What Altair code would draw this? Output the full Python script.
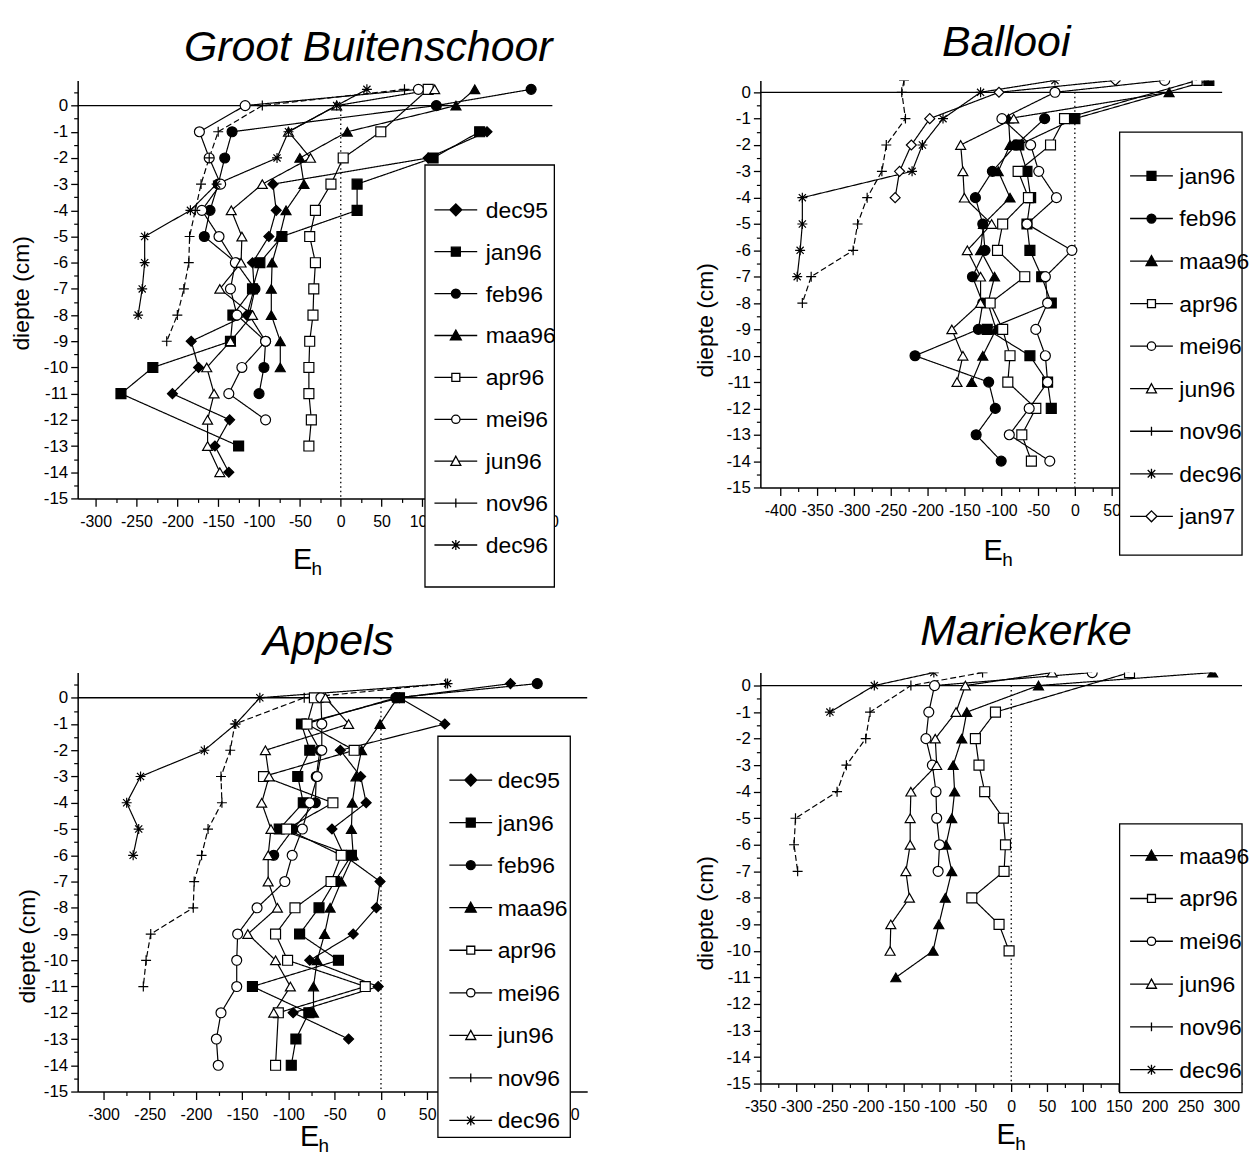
import altair as alt
import pandas as pd

FONT = "Liberation Sans Narrow, Arial Narrow, Liberation Sans, Arial, sans-serif"

# ---------------- data: redox potential Eh (mV) versus depth (cm) ----------------
# Groot Buitenschoor
GB_ORDER = ["dec95", "jan96", "feb96", "maa96", "apr96", "mei96", "jun96", "nov96", "dec96"]
GB_DEPTH = {
    "dec95": [-1, -2, -3, -4, -5, -6, -7, -8, -9, -10, -11, -12, -13, -14],
    "jan96": [-1, -2, -3, -4, -5, -6, -7, -8, -9, -10, -11, -13],
    "feb96": [0.62, 0, -1, -2, -3, -4, -5, -6, -7, -8, -9, -10, -11],
    "maa96": [0.62, 0, -1, -2, -3, -4, -5, -6, -7, -8, -9, -10],
    "apr96": [0.62, -1, -2, -3, -4, -5, -6, -7, -8, -9, -10, -11, -12, -13],
    "mei96": [0.62, 0, -1, -2, -3, -4, -5, -6, -7, -8, -9, -10, -11, -12],
    "jun96": [0.62, 0, -1, -2, -3, -4, -5, -6, -7, -8, -9, -10, -11, -12, -13, -14],
    "nov96": [0.62, 0, -1, -2, -3, -4, -5, -6, -7, -8, -9],
    "dec96": [0.62, 0, -1, -2, -3, -4, -5, -6, -7, -8],
}
GB_EH = {
    "dec95": [179, 107, -83, -79, -88, -108, -106, -115, -183, -174, -206, -136, -154, -137],
    "jan96": [170, 113, 20, 20, -72, -99, -108, -132, -135, -230, -269, -125],
    "feb96": [233, 117, -133, -142, -150, -160, -167, -128, -105, -112, -92, -94, -100],
    "maa96": [164, 141, 8, -50, -45, -67, -75, -84, -85, -85, -74, -74],
    "apr96": [107, 49, 3, -12, -31, -38, -31, -33, -34, -38, -39, -39, -36, -39],
    "mei96": [95, -117, -173, -161, -147, -170, -149, -129, -135, -127, -92, -121, -137, -92],
    "jun96": [115, -5, -64, -37, -96, -134, -121, -122, -148, -108, -135, -164, -155, -163, -163, -148],
    "nov96": [78, -96, -150, -161, -171, -178, -185, -186, -192, -200, -213],
    "dec96": [32, -5, -64, -78, -152, -184, -240, -240, -243, -248],
}

# Ballooi
BA_ORDER = ["jan96", "feb96", "maa96", "apr96", "mei96", "jun96", "nov96", "dec96", "jan97"]
BA_DEPTH = {
    "jan96": [0.45, -1, -2, -3, -4, -5, -6, -7, -8, -9, -10, -11, -12],
    "feb96": [-1, -2, -3, -4, -5, -6, -7, -8, -9, -10, -11, -12, -13, -14],
    "maa96": [0, -1, -2, -3, -4, -5, -6, -7, -8, -9, -10, -11],
    "apr96": [0.45, -1, -2, -3, -4, -5, -6, -7, -8, -9, -10, -11, -12, -13, -14],
    "mei96": [0.45, 0, -1, -2, -3, -4, -5, -6, -7, -8, -9, -10, -11, -12, -13, -14],
    "jun96": [-1, -2, -3, -4, -5, -6, -7, -8, -9, -10, -11],
    "nov96": [0.45, 0, -1, -2, -3, -4, -5, -6, -7, -8],
    "dec96": [0.45, 0, -1, -2, -3, -4, -5, -6, -7],
    "jan97": [0.45, 0, -1, -2, -3, -4],
}
BA_EH = {
    "jan96": [182, 0, -76, -65, -60, -65, -61, -45, -32, -119, -61, -37, -32],
    "feb96": [-41, -80, -112, -135, -125, -122, -139, -125, -131, -217, -117, -108, -134, -100],
    "maa96": [128, -90, -88, -104, -88, -124, -128, -109, -118, -107, -125, -140],
    "apr96": [166, -14, -33, -77, -63, -98, -105, -68, -115, -98, -88, -91, -53, -72, -59],
    "mei96": [122, -27, -99, -60, -49, -25, -65, -4, -40, -37, -53, -40, -37, -62, -89, -34],
    "jun96": [-83, -155, -152, -150, -113, -146, -128, -128, -167, -152, -160],
    "nov96": [-232, -235, -230, -256, -262, -282, -295, -301, -358, -370],
    "dec96": [-27, -128, -179, -207, -221, -370, -370, -373, -377],
    "jan97": [55, -103, -197, -222, -238, -244],
}

# Appels
AP_ORDER = ["dec95", "jan96", "feb96", "maa96", "apr96", "mei96", "jun96", "nov96", "dec96"]
AP_DEPTH = {
    "dec95": [0.54, 0, -1, -2, -3, -4, -5, -6, -7, -8, -9, -10, -11, -12, -13],
    "jan96": [0, -1, -2, -3, -4, -5, -6, -7, -8, -9, -10, -11, -12, -13, -14],
    "feb96": [0.54, 0, -1, -2, -3, -4, -5, -6],
    "maa96": [0, -1, -2, -3, -4, -5, -6, -7, -8, -9, -10, -11, -12],
    "apr96": [0, -1, -2, -3, -4, -5, -6, -7, -8, -9, -10, -11, -12, -14],
    "mei96": [0, -1, -2, -3, -4, -5, -6, -7, -8, -9, -10, -11, -12, -13, -14],
    "jun96": [0, -1, -2, -3, -4, -5, -6, -7, -8, -9, -10, -11, -12],
    "nov96": [0.54, 0, -1, -2, -3, -4, -5, -6, -7, -8, -9, -10, -11],
    "dec96": [0.54, 0, -1, -2, -3, -4, -5, -6],
}
AP_EH = {
    "dec95": [140, 20, 69, -44, -22, -16, -53, -40, -1, -5, -30, -77, -3, -95, -35],
    "jan96": [20, -86, -77, -90, -84, -110, -32, -50, -67, -88, -46, -139, -78, -92, -97],
    "feb96": [169, 16, -82, -66, -70, -71, -95, -116],
    "maa96": [18, -1, -21, -27, -31, -32, -30, -43, -55, -61, -69, -73, -73],
    "apr96": [-72, -80, -29, -127, -52, -102, -43, -54, -93, -114, -101, -17, -111, -114],
    "mei96": [-65, -64, -64, -69, -77, -85, -96, -104, -134, -155, -156, -156, -173, -178, -176],
    "jun96": [-60, -35, -125, -121, -129, -119, -122, -122, -112, -144, -114, -98, -116],
    "nov96": [70, -83, -158, -163, -173, -172, -187, -194, -202, -203, -249, -254, -257],
    "dec96": [72, -131, -157, -191, -260, -275, -262, -268],
}

# Mariekerke
MK_ORDER = ["maa96", "apr96", "mei96", "jun96", "nov96", "dec96"]
MK_DEPTH = {
    "maa96": [0.49, 0, -1, -2, -3, -4, -5, -6, -7, -8, -9, -10, -11],
    "apr96": [0.49, -1, -2, -3, -4, -5, -6, -7, -8, -9, -10],
    "mei96": [0.49, 0, -1, -2, -3, -4, -5, -6, -7],
    "jun96": [0.49, 0, -1, -2, -3, -4, -5, -6, -7, -8, -9, -10],
    "nov96": [0.49, 0, -1, -2, -3, -4, -5, -6, -7],
    "dec96": [0.49, 0, -1],
}
MK_EH = {
    "maa96": [281, 38, -62, -69, -81, -79, -83, -91, -83, -92, -101, -109, -161],
    "apr96": [165, -22, -50, -45, -37, -11, -8, -10, -55, -17, -3],
    "mei96": [113, -107, -115, -119, -110, -105, -104, -100, -102],
    "jun96": [57, -64, -77, -106, -104, -140, -141, -141, -147, -142, -168, -169],
    "nov96": [-40, -140, -197, -203, -230, -243, -301, -303, -298],
    "dec96": [-108, -191, -253],
}

Y_TICKS = [-15, -14, -13, -12, -11, -10, -9, -8, -7, -6, -5, -4, -3, -2, -1, 0]

# ---------------- styles ----------------
PLUS = "M-1,0H1M0,-1V1"
STAR = "M-1,0H1M0,-1V1M-0.72,-0.72L0.72,0.72M-0.72,0.72L0.72,-0.72"
SHAPE = {"dec95": "diamond", "jan96": "square", "feb96": "circle", "maa96": "triangle-up",
         "apr96": "square", "mei96": "circle", "jun96": "triangle-up", "nov96": PLUS,
         "dec96": STAR, "jan97": "diamond"}
FILL = {"dec95": "black", "jan96": "black", "feb96": "black", "maa96": "black",
        "apr96": "white", "mei96": "white", "jun96": "white", "nov96": "black",
        "dec96": "black", "jan97": "white"}
LEG_SHAPE = {
    "dec95": "M-2.15,0H-0.6M0.6,0H2.15M0,-0.6L0.6,0L0,0.6L-0.6,0Z",
    "jan96": "M-2.15,0H-0.45M0.45,0H2.15M-0.45,-0.45H0.45V0.45H-0.45Z",
    "feb96": "M-2.15,0H-0.45M0.45,0H2.15M-0.45,0A0.45,0.45,0,1,0,0.45,0A0.45,0.45,0,1,0,-0.45,0Z",
    "maa96": "M-2.15,0H-0.3M0.3,0H2.15M0,-0.55L0.55,0.45L-0.55,0.45Z",
    "apr96": "M-2.15,0H-0.4M0.4,0H2.15M-0.4,-0.4H0.4V0.4H-0.4Z",
    "mei96": "M-2.15,0H-0.42M0.42,0H2.15M-0.42,0A0.42,0.42,0,1,0,0.42,0A0.42,0.42,0,1,0,-0.42,0Z",
    "jun96": "M-2.15,0H-0.28M0.28,0H2.15M0,-0.5L0.5,0.42L-0.5,0.42Z",
    "nov96": "M-2.15,0H2.15M0,-0.45V0.45",
    "dec96": "M-2.15,0H2.15M0,-0.5V0.5M-0.38,-0.38L0.38,0.38M-0.38,0.38L0.38,-0.38",
    "jan97": "M-2.15,0H-0.55M0.55,0H2.15M0,-0.55L0.55,0L0,0.55L-0.55,0Z",
}
ONE = pd.DataFrame({"k": [0]})


def frame(depths, ehs, order):
    rows = []
    for s in order:
        for i, (d, e) in enumerate(zip(depths[s], ehs[s])):
            rows.append({"series": s, "depth": d, "eh": e, "idx": i})
    return pd.DataFrame(rows)


def txt(text, x, y, size, **kw):
    return alt.Chart(ONE).mark_text(text=text, font=FONT, fontSize=size, color="black", **kw).encode(
        x=alt.value(x), y=alt.value(y))


def panel(depths, ehs, order, xdom, ydom, w, h, xticks, title, tpos, ypos, epos, box, sym_x, lab_x,
          first_y, step, anchor=False):
    df = frame(depths, ehs, order)
    xs = alt.Scale(domain=xdom, nice=False, zero=False)
    ys = alt.Scale(domain=ydom, nice=False, zero=False)
    xminor = [v + 25 for v in xticks if xdom[0] <= v + 25 <= xdom[1]]
    yminor = [v + 0.5 for v in Y_TICKS if ydom[0] <= v + 0.5 <= ydom[1]]
    ax_common = dict(grid=False, title=None, domainColor="black", tickColor="black", labelColor="black",
                     labelFont=FONT, tickWidth=1.3, domainWidth=1.5, labelExpr="datum.value + ''")
    major_x = alt.Axis(orient="bottom", values=xticks, tickSize=8, labelPadding=7, labelOverlap=False,
                       labelFlush=False, labelFontSize=16, **ax_common)
    major_y = alt.Axis(orient="left", values=Y_TICKS, tickSize=7, labelPadding=3, labelOverlap=False,
                       labelFontSize=17, **ax_common)
    minor_x = alt.Axis(orient="bottom", values=xminor, labels=False, domain=False, tickSize=4, grid=False,
                       title=None, tickColor="black", tickWidth=1.2)
    minor_y = alt.Axis(orient="left", values=yminor, labels=False, domain=False, tickSize=4, grid=False,
                       title=None, tickColor="black", tickWidth=1.2)

    base = alt.Chart(df)
    lines = base.mark_line(color="black", strokeWidth=1.2, clip=True).encode(
        x=alt.X("eh:Q", scale=xs, axis=major_x),
        y=alt.Y("depth:Q", scale=ys, axis=major_y),
        detail="series:N",
        order=alt.Order("idx:Q"),
        strokeDash=alt.StrokeDash("series:N", legend=None,
                                  scale=alt.Scale(domain=order,
                                                  range=[[6, 3] if s == "nov96" else [1, 0] for s in order])),
    )
    minor = base.mark_point(opacity=0).encode(
        x=alt.X("eh:Q", scale=xs, axis=minor_x),
        y=alt.Y("depth:Q", scale=ys, axis=minor_y),
    )
    zero = alt.Chart(ONE).mark_rule(color="black", strokeWidth=1.3).encode(y=alt.YDatum(0, axis=None))
    dotted = alt.Chart(ONE).mark_rule(color="black", strokeWidth=1.3, strokeDash=[1.5, 3]).encode(
        x=alt.XDatum(0, axis=None), y=alt.YDatum(0, axis=None), y2=alt.Y2Datum(-15))
    points = base.mark_point(filled=True, stroke="black", strokeWidth=1.2, size=100, opacity=1,
                             clip=True).encode(
        x=alt.X("eh:Q", scale=xs, axis=None),
        y=alt.Y("depth:Q", scale=ys, axis=None),
        shape=alt.Shape("series:N", scale=alt.Scale(domain=order, range=[SHAPE[s] for s in order]),
                        legend=None),
        fill=alt.Fill("series:N", scale=alt.Scale(domain=order, range=[FILL[s] for s in order]),
                      legend=None),
    )
    rect = alt.Chart(ONE).mark_rect(fill="white", stroke="black", strokeWidth=1.3).encode(
        x=alt.value(box[0]), x2=alt.value(box[2]), y=alt.value(box[1]), y2=alt.value(box[3]))
    layers = [lines, minor, zero, dotted, points, rect]
    # legend entries: line stub + marker, and label
    for i, s in enumerate(order):
        yy = first_y + i * step
        layers.append(alt.Chart(ONE).mark_point(shape=LEG_SHAPE[s], filled=True, fill=FILL[s], stroke="black",
                                                strokeWidth=1.3, size=400, opacity=1).encode(
            x=alt.value(sym_x), y=alt.value(yy)))
        layers.append(txt(s, lab_x, yy + 1, 23, align="left", baseline="middle"))
    layers += [txt(title, tpos[0], tpos[1], 43, fontStyle="italic", align="center", baseline="alphabetic"),
               txt("diepte (cm)", ypos[0], ypos[1], 23, angle=270, align="center", baseline="middle"),
               txt("E", epos[0], epos[1], 29, align="center", baseline="alphabetic"),
               txt("h", epos[0] + 9, epos[1] + 6, 19, align="left", baseline="alphabetic")]
    if anchor:
        layers.append(alt.Chart(ONE).mark_rect(opacity=0).encode(
            x=alt.value(-70), x2=alt.value(-69), y=alt.value(-70), y2=alt.value(-69)))
    return alt.layer(*layers).resolve_axis(x="independent", y="independent").properties(width=w, height=h)


p1 = panel(GB_DEPTH, GB_EH, GB_ORDER, [-322, 259], [-15, 0.96], 477, 420,
           [-300, -250, -200, -150, -100, -50, 0, 50, 100, 150, 200, 250],
           "Groot Buitenschoor", (292, -20), (-56, 214), (226, 491),
           (349, 85, 479, 509), 380, 410, 130, 42.1, anchor=True)
p2 = panel(BA_DEPTH, BA_EH, BA_ORDER, [-427, 200], [-15, 0.45], 464, 409,
           [-400, -350, -300, -250, -200, -150, -100, -50, 0, 50, 100, 150, 200],
           "Ballooi", (247, -25), (-55, 241), (234, 482),
           (361, 52, 484, 477), 393, 421, 96, 42.75)
p3 = panel(AP_DEPTH, AP_EH, AP_ORDER, [-328, 223], [-15, 0.96], 512, 421,
           [-300, -250, -200, -150, -100, -50, 0, 50, 100, 150, 200],
           "Appels", (252, -18), (-50, 275), (233, 476),
           (362, 64, 495, 467), 395, 422, 108, 42.75)
p4 = panel(MK_DEPTH, MK_EH, MK_ORDER, [-350, 322], [-15, 0.49], 484, 413,
           [-350, -300, -250, -200, -150, -100, -50, 0, 50, 100, 150, 200, 250, 300],
           "Mariekerke", (267, -28), (-55, 242), (247, 474),
           (361, 152, 484, 422), 393, 421, 184, 43)

chart = alt.concat(p1, p2, p3, p4, columns=2, spacing={"row": 175, "column": 174},
                   bounds="flush").resolve_scale(
    shape="independent", fill="independent", strokeDash="independent").properties(
    padding=0, background="white").configure_view(stroke=None)

chart.save("out.html", embed_options={"renderer": "svg", "actions": False})
